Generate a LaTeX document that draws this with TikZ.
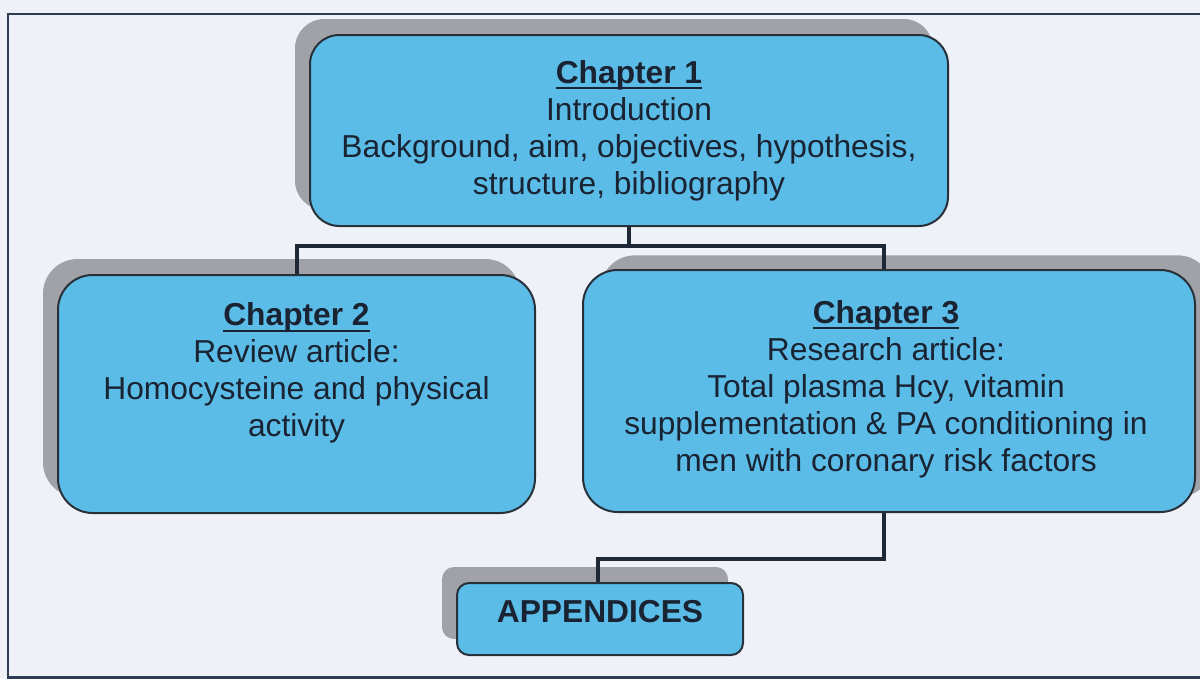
\documentclass[tikz,border=0pt]{standalone}
\usepackage{fontspec}
\setmainfont{Liberation Sans}
\usetikzlibrary{shadows}
\definecolor{bgc}{RGB}{238,242,248}
\definecolor{boxfill}{RGB}{92,188,232}
\definecolor{shadowc}{RGB}{160,162,168}
\definecolor{borderc}{RGB}{40,48,58}
\definecolor{linec}{RGB}{30,40,55}
\definecolor{textc}{RGB}{25,35,50}
\definecolor{framec}{RGB}{45,60,80}
\newcommand\chapul[1]{\setbox0\hbox{#1}\rlap{\rule[-4.6pt]{\wd0}{1.5pt}}\box0}
\tikzset{
  chapbox/.style={draw=borderc, line width=1.5pt, fill=boxfill, inner sep=0pt},
  shadowL/.style={drop shadow={shadow xshift=-11.25pt, shadow yshift=12pt, opacity=1, fill=shadowc}},
  shadowR/.style={drop shadow={shadow xshift=13pt, shadow yshift=11pt, opacity=1, fill=shadowc}},
  chaptext/.style={text=textc, align=center, inner sep=0pt,
    font=\fontsize{23.8}{27.75}\selectfont},
  conn/.style={draw=linec, line width=3pt},
}
\begin{document}
\begin{tikzpicture}[x=0.75pt,y=-0.75pt]
\useasboundingbox (0,0) rectangle (1200,679);
\fill[bgc] (0,0) rectangle (1200,679);
\draw[framec, line width=2.2pt] (1200,14) -- (8,14) -- (8,679);
\draw[framec, line width=2.2pt] (8,677.5) -- (1200,677.5);

% boxes
\node[chapbox, shadowL, rounded corners=22pt, minimum width=478.5pt, minimum height=143.25pt] (b1) at (629,130.5) {};
\node[chapbox, shadowL, rounded corners=26pt, minimum width=357.75pt, minimum height=178.5pt] (b2) at (296.5,394) {};
\node[chapbox, shadowR, rounded corners=26pt, minimum width=459pt, minimum height=181.5pt] (b3) at (889,391) {};
\node[chapbox, shadowL, rounded corners=9pt, minimum width=214.5pt, minimum height=54pt] (app) at (600,619) {};

% connectors
\draw[conn] (b1.south) -- ++(0,19) -| (b2.north);
\draw[conn] (b1.south) -- ++(0,19) -| ([xshift=-3.75pt]b3.north);
\draw[conn] ([xshift=-3.75pt]b3.south) -- ++(0,46) -| ([xshift=-1.5pt]app.north);

% texts
\node[chaptext] (t1) at (629,130.5) {\chapul{\textbf{Chapter 1}}\\Introduction\\Background, aim, objectives, hypothesis,\\structure, bibliography};
\node[chaptext] (t2) at (296.5,373) {\chapul{\textbf{Chapter 2}}\\Review article:\\Homocysteine and physical\\activity};
\node[chaptext] (t3) at (886,389) {\chapul{\textbf{Chapter 3}}\\Research article:\\Total plasma Hcy, vitamin\\supplementation \& PA conditioning in\\men with coronary risk factors};
\node[chaptext] (t4) at (600,612) {\textbf{APPENDICES}};
\end{tikzpicture}
\end{document}
